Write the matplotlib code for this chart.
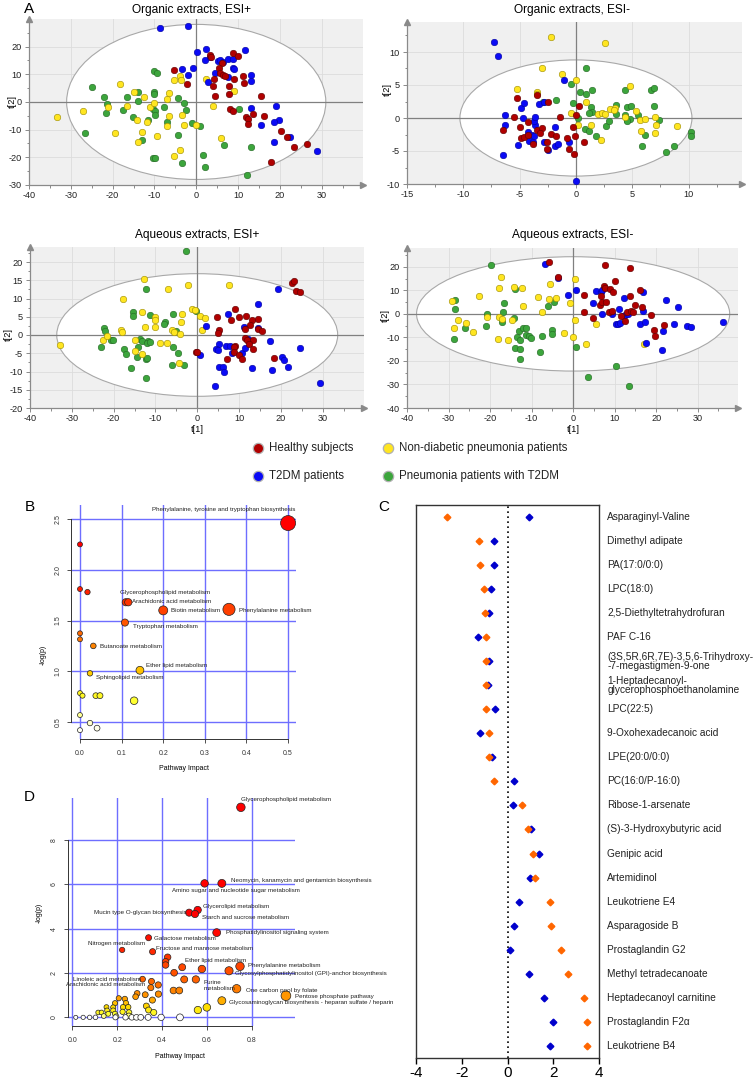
import numpy as np
import matplotlib
matplotlib.use("Agg")
import matplotlib.pyplot as plt
from matplotlib.patches import Ellipse
from matplotlib.colors import LinearSegmentedColormap, Normalize, PowerNorm
from matplotlib.ticker import MultipleLocator, AutoMinorLocator

plt.rcParams['font.family'] = ['Liberation Sans', 'DejaVu Sans']
plt.rcParams['axes.unicode_minus'] = False

W, H = 755, 1081

# ---------------- panel A: PCA score plots (t[1], t[2]) ----------------
group_labels = ["Healthy subjects", "T2DM patients",
                "Non-diabetic pneumonia patients", "Pneumonia patients with T2DM"]

org_pos_healthy = [(-5.2, 11.4), (-2.2, 6.6), (3.4, 17.0), (3.6, 16.4), (8.7, 17.6), (10.0, 16.5), (6.2, 14.1),
                   (5.5, 12.3), (5.8, 10.4), (6.4, 9.7), (6.9, 9.4), (9.0, 8.2), (4.3, 8.4), (11.1, 9.4), (11.4, 6.9),
                   (4.1, 5.7), (7.9, 5.7), (4.4, 2.3), (7.8, 2.8), (15.5, 2.0), (8.1, -2.5), (8.8, -3.2), (11.9, -5.5),
                   (12.3, -6.3), (12.4, -8.0), (13.5, -4.5), (16.3, -5.0), (20.3, -10.6), (21.7, -12.5),
                   (23.3, -16.1), (26.4, -15.3), (18.0, -21.6)]
org_pos_t2dm = [(-8.7, 26.6), (-2.0, 27.3), (0.2, 18.2), (2.4, 19.1), (11.7, 18.8), (2.0, 15.2), (3.4, 16.2),
                (5.3, 14.7), (5.8, 15.1), (6.5, 14.3), (7.5, 15.5), (8.8, 15.6), (8.8, 12.3), (9.1, 12.0),
                (-0.7, 12.1), (-3.4, 11.8), (-2.0, 9.8), (4.4, 10.4), (7.6, 9.1), (2.8, 7.2), (13.2, 9.8),
                (13.2, 7.4), (13.2, -2.2), (19.1, -1.6), (19.7, -6.4), (18.7, -7.2), (15.4, -8.5), (18.5, -14.4),
                (22.5, -12.8), (28.9, -17.9)]
org_pos_nondiab = [(-33.2, -5.6), (-27.0, -3.3), (-18.2, 6.6), (-21.1, -1.8), (-16.5, -1.6), (-15.0, 3.6),
                   (-14.2, -6.7), (-14.0, -14.6), (-19.4, -11.4), (-12.5, 1.9), (-12.9, -10.8), (-11.8, -7.3),
                   (-11.0, -2.0), (-10.0, -0.5), (-9.4, -12.3), (-7.0, 1.0), (-6.6, 3.4), (-6.9, -8.7), (-6.4, -5.1),
                   (-5.2, 7.8), (-3.9, 9.2), (-3.6, 8.0), (-3.5, -4.6), (-3.0, -8.5), (-3.9, -17.2), (-5.4, -19.5),
                   (2.4, 8.2), (9.1, 3.9), (4.0, -1.3), (0.0, -8.4), (6.0, -13.2)]
org_pos_pneu = [(-25.0, 5.3), (-22.0, 1.6), (-21.4, -0.7), (-21.6, -4.0), (-26.5, -11.1), (-16.5, 1.9),
                (-17.6, -3.0), (-14.0, 3.7), (-14.0, 0.5), (-15.2, -5.3), (-11.6, -6.4), (-12.9, -13.6),
                (-10.2, 3.7), (-10.1, 3.0), (-10.4, -2.4), (-9.8, -3.1), (-9.8, -4.7), (-7.6, -1.8), (-7.0, -7.3),
                (-10.0, 11.0), (-9.4, 10.6), (-4.3, 1.3), (-3.0, -0.5), (-2.4, -2.9), (-4.3, -12.0),
                (-10.3, -20.1), (-9.8, -20.1), (-3.5, -21.9), (-1.0, -7.6), (1.0, -8.8), (1.7, -19.0),
                (2.0, -23.6), (6.7, -15.5), (10.3, -2.7), (13.2, -16.1), (12.1, -26.5)]

org_neg_healthy = [(-5.2, 3.1), (-5.5, 0.1), (-6.5, -1.8), (-5.0, -1.4), (-4.9, -3.0), (-4.6, -2.9), (-4.3, -2.6),
                   (-4.3, -0.6), (-3.8, -4.0), (-3.5, 3.5), (-3.5, -1.8), (-3.0, -1.5), (-3.2, -2.3), (-2.5, 2.4),
                   (-2.6, -3.6), (-2.6, -4.7), (-2.2, -2.4), (-1.8, -2.7), (-1.4, 0.2), (-0.8, -3.1), (-0.6, -4.7),
                   (-0.2, -5.5), (-0.3, -1.4), (-0.1, -2.8), (0.0, 0.4), (0.3, 1.8), (0.7, -3.7)]
org_neg_t2dm = [(-7.3, 11.5), (-6.9, 9.4), (-1.1, 5.7), (-6.3, 0.5), (-6.3, -1.0), (-6.5, -5.6), (-5.1, -4.1),
                (-4.9, 1.5), (-4.6, 2.3), (-4.7, 0.0), (-4.3, -2.1), (-4.2, -3.5), (-3.9, -2.5), (-3.8, -3.7),
                (-3.6, -1.0), (-3.7, -0.5), (-3.6, 0.2), (-3.7, -2.8), (-3.3, 2.1), (-2.8, 2.5), (-2.8, -3.6),
                (-2.5, -4.9), (-1.9, -1.3), (-1.9, -4.3), (-1.6, -4.0), (-0.6, -3.6), (0.0, -9.6)]
org_neg_nondiab = [(-2.2, 12.2), (2.6, 11.4), (-3.0, 7.5), (-1.2, 6.6), (0.0, 5.8), (-5.2, 4.4), (-3.5, 3.9),
                   (-3.5, 3.6), (0.9, 2.5), (-0.4, 0.7), (0.2, -1.1), (1.3, -1.0), (2.2, -3.3), (2.0, 0.6),
                   (2.3, 0.7), (2.6, 0.6), (3.0, 1.3), (3.5, 1.5), (3.4, 1.2), (4.4, 0.2), (4.8, 4.8), (5.3, 1.1),
                   (5.7, -0.3), (6.1, -0.1), (5.8, -1.9), (7.0, 0.1), (7.1, -1.1), (7.0, -2.2), (9.0, -1.2)]
org_neg_pneu = [(0.9, 7.6), (-0.4, 5.1), (0.4, 4.0), (0.9, 3.7), (1.4, 4.2), (-1.8, 2.8), (-2.9, 2.5), (-0.3, 2.2),
                (1.3, 1.6), (1.4, 0.9), (1.2, 0.8), (0.2, 0.0), (0.8, -1.7), (1.2, -2.0), (1.8, -2.7), (2.7, -1.2),
                (2.9, -0.4), (3.6, 2.0), (3.6, 0.6), (4.4, 4.2), (4.5, 1.6), (4.4, 0.4), (4.5, -0.3), (4.9, 1.8),
                (4.8, -0.1), (4.5, -0.5), (5.5, 0.4), (6.1, -2.5), (5.9, -4.3), (6.7, 4.2), (6.9, 4.5), (6.9, 1.8),
                (7.4, -0.3), (8.0, -5.1), (8.7, -4.2), (10.2, -2.1), (10.2, -2.8)]

aq_pos_healthy = [(-0.4, -4.6), (0.0, -4.6), (4.8, 4.8), (5.1, 1.5), (4.9, 0.5), (8.0, 4.1), (9.0, 7.0), (9.9, 4.9),
                  (11.7, 5.1), (13.2, 4.2), (14.6, 4.4), (12.7, 2.7), (11.4, 1.6), (14.6, 1.6), (15.4, 1.0),
                  (11.5, -0.9), (12.0, -1.4), (13.3, -1.3), (12.5, -2.5), (13.3, -3.9), (9.1, -3.1), (8.7, -3.4),
                  (8.7, -4.6), (9.9, -5.5), (10.6, -6.6), (7.1, -6.6), (18.4, -6.4), (22.6, 14.3), (23.2, 14.9),
                  (23.7, 12.1), (24.6, 11.8)]
aq_pos_t2dm = [(19.4, 12.5), (14.6, 8.4), (2.2, 2.5), (7.4, 5.7), (11.3, 2.3), (14.6, 1.9), (17.3, -1.7),
               (5.1, -2.6), (4.4, -3.8), (4.9, -4.1), (7.0, -3.0), (7.8, -3.1), (8.4, -4.9), (10.8, -4.9),
               (12.2, -1.1), (11.4, -3.5), (0.7, -5.4), (5.1, -8.9), (6.2, -8.8), (6.3, -10.0), (13.0, -9.1),
               (17.8, -9.5), (20.2, -6.1), (20.8, -6.9), (21.8, -8.7), (24.7, -3.5), (29.3, -13.1), (4.2, -14.1)]
aq_pos_nondiab = [(-32.9, -2.8), (-22.5, -1.3), (-21.5, -0.4), (-18.3, 1.4), (-18.1, 0.9), (-17.7, 9.8),
                  (-15.0, -1.5), (-15.0, -4.4), (-13.3, -5.3), (-12.7, 15.4), (-13.3, 6.2), (-12.5, 2.2),
                  (-10.1, 4.9), (-10.1, 4.1), (-10.1, 2.2), (-8.9, -2.1), (-7.3, -2.3), (-6.9, 12.6), (-6.0, 1.3),
                  (-5.5, 0.8), (-3.7, 5.7), (-3.8, 3.5), (-4.0, 0.3), (-4.4, -7.8), (-2.2, 13.8), (-1.2, 7.1),
                  (-0.6, 6.8), (0.6, 5.3), (1.8, 4.7), (1.2, 1.5), (7.5, 13.7)]
aq_pos_pneu = [(-2.8, 22.9), (-12.3, 12.5), (-15.4, 6.3), (-15.3, 5.3), (-11.2, 5.5), (-7.7, 3.6), (-7.9, 3.1),
               (-5.9, 5.7), (-0.3, 6.6), (-5.1, 1.0), (-22.4, 1.8), (-22.0, 1.1), (-20.6, -1.3), (-20.2, -1.4),
               (-23.1, -3.2), (-17.6, -3.7), (-17.0, -5.3), (-13.8, -1.1), (-13.3, -1.7), (-11.8, -1.7),
               (-12.0, -2.2), (-11.4, -1.9), (-14.1, -3.4), (-14.3, -5.9), (-12.3, -6.7), (-12.1, -6.4),
               (-15.9, -9.1), (-12.3, -11.7), (-5.8, -3.2), (-4.6, -5.0), (-6.0, -8.2), (-3.1, -8.2)]

aq_neg_healthy = [(-5.9, 22.1), (-3.6, 15.8), (2.6, 7.9), (2.5, 0.7), (4.7, -1.9), (6.4, 3.6), (6.8, 7.6),
                  (7.0, 5.1), (7.4, 11.9), (7.6, 10.8), (7.7, 20.8), (7.9, 5.1), (8.6, 1.0), (8.8, 10.5), (9.4, 1.3),
                  (9.7, 9.3), (10.1, 14.0), (11.6, -1.0), (12.4, -3.1), (13.0, 1.0), (13.6, 19.5), (13.8, 7.6),
                  (14.0, 1.3), (14.3, 0.7), (14.8, 3.7), (16.1, 10.3), (16.6, 3.1), (18.8, -0.4), (19.4, -6.9),
                  (19.6, -9.6), (22.0, -4.8)]
aq_neg_t2dm = [(-6.8, 21.3), (-3.6, 15.2), (-1.3, 7.9), (0.6, 10.2), (4.7, 4.8), (5.6, 9.6), (6.7, 9.2),
               (7.0, 10.1), (7.0, -0.2), (9.3, -0.2), (10.3, -4.4), (10.9, -4.3), (11.2, -3.9), (11.0, 2.1),
               (11.9, -1.1), (12.2, 6.9), (12.6, -0.5), (13.1, 0.0), (16.2, -4.5), (16.9, 9.1), (16.9, 1.1),
               (17.3, -3.3), (17.5, -12.4), (21.5, -15.4), (21.6, -7.2), (22.3, 5.8), (24.3, -4.5), (25.2, 2.8),
               (27.4, -5.0), (28.3, -5.6), (36.1, -3.5)]
aq_neg_nondiab = [(-29.2, 5.4), (-28.7, -6.2), (-27.6, -2.4), (-25.9, -3.8), (-24.0, -7.9), (-22.6, 7.8),
                  (-20.7, -1.4), (-18.1, -10.6), (-17.8, 11.2), (-17.3, 15.6), (-17.8, -1.3), (-17.2, -2.3),
                  (-15.6, -11.0), (-14.8, -2.8), (-14.2, 11.6), (-12.3, 11.2), (-12.0, 3.3), (-8.4, 7.2),
                  (-7.5, 0.6), (-5.9, 6.4), (-5.6, 12.6), (-4.2, 6.8), (-2.3, -8.0), (-0.8, 4.8), (0.4, 14.7),
                  (0.4, -2.4), (0.0, -9.9), (3.1, -12.7), (5.6, -4.5), (17.1, -12.6)]
aq_neg_pneu = [(-19.7, 20.9), (-28.5, 5.8), (-28.4, 2.1), (-28.6, -10.5), (-26.0, -5.8), (-20.7, 0.0),
               (-20.9, -5.1), (-16.6, 4.5), (-16.9, 1.0), (-17.1, -3.5), (-14.3, -1.7), (-13.9, 10.5),
               (-13.0, -7.1), (-12.0, -6.1), (-11.3, -6.1), (-11.3, -8.8), (-10.7, -9.4), (-10.1, -10.2),
               (-13.6, -10.0), (-12.8, -11.2), (-13.9, -14.3), (-12.7, -15.0), (-12.9, -19.1), (-7.6, -9.3),
               (-8.0, -16.4), (-6.0, 3.2), (-4.6, 4.9), (-5.0, -6.9), (-5.2, -8.4), (0.8, -14.1), (3.6, -26.9),
               (10.4, -22.3), (13.4, -30.7)]

# ---------------- panel B: pathway analysis ----------------
b_impact = [0.5, 0.0, 0.0, 0.018, 0.11, 0.116, 0.2, 0.358, 0.108, 0.0, 0.0, 0.032, 0.144, 0.024,
            0.0, 0.006, 0.038, 0.048, 0.13, 0.0, 0.024, 0.041, 0.0]
b_logp = [2.46, 2.25, 1.81, 1.78, 1.68, 1.68, 1.60, 1.61, 1.48, 1.374, 1.315, 1.25, 1.01, 0.98,
          0.785, 0.76, 0.76, 0.76, 0.71, 0.569, 0.49, 0.44, 0.42]
b_names = ["Phenylalanine, tyrosine and tryptophan biosynthesis", "Glycerophospholipid metabolism",
           "Arachidonic acid metabolism", "Biotin metabolism", "Phenylalanine metabolism",
           "Tryptophan metabolism", "Butanoate metabolism", "Ether lipid metabolism", "Sphingolipid metabolism"]
b_name_x = [0.345, 0.096, 0.124, 0.219, 0.383, 0.127, 0.047, 0.158, 0.038]
b_name_y = [2.589, 1.78, 1.689, 1.597, 1.597, 1.443, 1.242, 1.055, 0.937]

# ---------------- panel D: pathway analysis ----------------
d_impact = [0.752, 0.667, 0.59, 0.559, 0.521, 0.547, 0.644, 0.34, 0.222, 0.358, 0.425, 0.416, 0.416, 0.49,
            0.748, 0.578, 0.699, 0.454, 0.499, 0.551, 0.313, 0.353, 0.383, 0.35, 0.733, 0.451, 0.477, 0.384,
            0.325, 0.289, 0.282, 0.953, 0.357, 0.667, 0.60, 0.56, 0.33, 0.34, 0.363, 0.207, 0.234, 0.19, 0.239,
            0.182, 0.226, 0.249, 0.152, 0.155, 0.115, 0.13, 0.14, 0.16, 0.182, 0.19, 0.224, 0.253, 0.252, 0.196,
            0.015, 0.048, 0.077, 0.103, 0.192, 0.237, 0.265, 0.286, 0.305, 0.338, 0.396, 0.48]
d_logp = [9.47, 6.04, 6.04, 4.84, 4.72, 4.66, 3.82, 3.59, 3.04, 2.96, 2.71, 2.51, 2.36, 2.26,
          2.30, 2.18, 2.10, 2.01, 1.71, 1.71, 1.72, 1.62, 1.46, 1.34, 1.29, 1.21, 1.21, 1.05,
          1.02, 1.08, 0.93, 0.975, 0.78, 0.75, 0.45, 0.33, 0.51, 0.33, 0.22, 0.86, 0.83, 0.64, 0.64,
          0.45, 0.46, 0.46, 0.46, 0.31, 0.22, 0.22, 0.06, 0.16, 0.31, 0.16, 0.25, 0.22, 0.07, 0.04,
          0.0, 0.0, 0.0, 0.0, 0.0, 0.0, 0.0, 0.0, 0.0, 0.0, 0.0, 0.0]
d_names = ["Glycerophospholipid metabolism", "Neomycin, kanamycin and gentamicin biosynthesis",
           "Amino sugar and nucleotide sugar metabolism", "Glycerolipid metabolism",
           "Mucin type O-glycan biosynthesis", "Starch and sucrose metabolism",
           "Phosphatidylinositol signaling system", "Galactose metabolism", "Nitrogen metabolism",
           "Fructose and mannose metabolism", "Ether lipid metabolism", "Phenylalanine metabolism",
           "Glycosylphosphatidylinositol (GPI)-anchor biosynthesis", "Linoleic acid metabolism",
           "Arachidonic acid metabolism", "Purine\nmetabolism", "One carbon pool by folate",
           "Pentose phosphate pathway", "Glycosaminoglycan biosynthesis - heparan sulfate / heparin"]
d_name_x = [0.752, 0.706, 0.444, 0.584, 0.51, 0.578, 0.684, 0.363, 0.068, 0.375, 0.502, 0.785, 0.725,
            0.003, -0.027, 0.587, 0.775, 0.994, 0.70]
d_name_y = [9.83, 6.16, 5.70, 5.0, 4.72, 4.51, 3.82, 3.55, 3.32, 3.11, 2.58, 2.33, 1.98,
            1.71, 1.47, 1.44, 1.23, 0.93, 0.66]

# ---------------- panel C: metabolite changes ----------------
c_names = ["Asparaginyl-Valine", "Dimethyl adipate", "PA(17:0/0:0)", "LPC(18:0)", "2,5-Diethyltetrahydrofuran",
           "PAF C-16", "(3S,5R,6R,7E)-3,5,6-Trihydroxy-\n-7-megastigmen-9-one",
           "1-Heptadecanoyl-\nglycerophosphoethanolamine", "LPC(22:5)", "9-Oxohexadecanoic acid",
           "LPE(20:0/0:0)", "PC(16:0/P-16:0)", "Ribose-1-arsenate", "(S)-3-Hydroxybutyric acid",
           "Genipic acid", "Artemidinol", "Leukotriene E4", "Asparagoside B", "Prostaglandin G2",
           "Methyl tetradecanoate", "Heptadecanoyl carnitine", "Prostaglandin F2\u03b1", "Leukotriene B4"]
c_orange = [-2.63, -1.24, -1.21, -1.02, -0.98, -0.95, -0.92, -0.92, -0.92, -0.83, -0.83, -0.60,
            0.64, 0.90, 1.11, 1.19, 1.85, 1.89, 2.33, 2.66, 3.36, 3.49, 3.49]
c_blue = [0.96, -0.60, -0.61, -0.73, -0.82, -1.28, -0.83, -0.84, -0.54, -1.19, -0.66, 0.28,
          0.25, 1.02, 1.37, 0.98, 0.51, 0.29, 0.10, 0.93, 1.60, 1.99, 1.85]

# ---------------- styles ----------------
group_face = ['#b00000', '#0a0af5', '#ffe520', '#3ca53c']
group_edge = ['#5a0000', '#00009a', '#9a8a00', '#236623']
heat = LinearSegmentedColormap.from_list('heat', [(0, '#ffffff'), (0.08, '#ffffb0'), (0.2, '#ffff30'),
                                                  (0.33, '#ffe000'), (0.45, '#ffa500'), (0.62, '#ff6a00'),
                                                  (0.8, '#ff3a00'), (1.0, '#ff0000')])
grid_blue = '#6e6eff'

fig = plt.figure(figsize=(W / 100, H / 100), dpi=100)


def px_axes(x0, y0, x1, y1):
    return fig.add_axes([x0 / W, 1 - y1 / H, (x1 - x0) / W, (y1 - y0) / H])


def ftext(x, y, s, **kw):
    fig.text(x / W, 1 - y / H, s, **kw)


def score_panel(box, groups, xlim, ylim, ell, xstep, ystep):
    ax = px_axes(*box)
    ax.set_xlim(*xlim)
    ax.set_ylim(*ylim)
    ax.set_facecolor('#f0f0f0')
    ax.xaxis.set_major_locator(MultipleLocator(xstep))
    ax.yaxis.set_major_locator(MultipleLocator(ystep))
    ax.xaxis.set_minor_locator(AutoMinorLocator(2))
    ax.yaxis.set_minor_locator(AutoMinorLocator(2))
    ax.set_axisbelow(True)
    ax.grid(True, color='#dcdcdc', lw=0.6)
    ax.add_patch(Ellipse((0, 0), 2 * ell[0], 2 * ell[1], facecolor='white', edgecolor='#a8a8a8',
                         lw=0.8, zorder=1))
    ax.axhline(0, color='#808080', lw=0.9, zorder=1.5)
    ax.axvline(0, color='#808080', lw=0.9, zorder=1.5)
    for k in [3, 2, 1, 0]:
        pts = np.array(groups[k])
        ax.scatter(pts[:, 0], pts[:, 1], s=22, c=group_face[k], edgecolors=group_edge[k],
                   linewidths=0.4, zorder=3)
    for side in ['top', 'right']:
        ax.spines[side].set_visible(False)
    for side in ['left', 'bottom']:
        ax.spines[side].set_color('#8a8a8a')
        ax.spines[side].set_linewidth(0.9)
    ax.tick_params(which='both', colors='#8a8a8a', labelcolor='#222222', labelsize=6.6, width=0.7)
    ax.tick_params(which='major', length=3)
    ax.tick_params(which='minor', length=1.8)
    ax.tick_params(axis='x', pad=1.5)
    ax.tick_params(axis='y', pad=2.5)
    ax.plot(1, 0, '>', ms=4.5, color='#8a8a8a', transform=ax.transAxes, clip_on=False)
    ax.plot(0, 1, '^', ms=4.5, color='#8a8a8a', transform=ax.transAxes, clip_on=False)
    return ax


score_panel((29, 19.4, 362.6, 185), [org_pos_healthy, org_pos_t2dm, org_pos_nondiab, org_pos_pneu],
            (-40, 39.8), (-30, 29.8), (31, 28), 10, 10)
score_panel((407, 22.3, 741.5, 184), [org_neg_healthy, org_neg_t2dm, org_neg_nondiab, org_neg_pneu],
            (-15, 14.7), (-10, 14.5), (10.3, 8.8), 5, 5)
score_panel((30, 247.4, 363.6, 408), [aq_pos_healthy, aq_pos_t2dm, aq_pos_nondiab, aq_pos_pneu],
            (-40, 39.8), (-20, 24), (33.6, 16.8), 10, 5)
score_panel((407, 248, 738, 408), [aq_neg_healthy, aq_neg_t2dm, aq_neg_nondiab, aq_neg_pneu],
            (-40, 39.7), (-40, 28), (37.7, 24.3), 10, 10)

ftext(192, 10, "Organic extracts, ESI+", fontsize=8.6, ha='center', va='center')
ftext(572, 10, "Organic extracts, ESI-", fontsize=8.6, ha='center', va='center')
ftext(197, 235, "Aqueous extracts, ESI+", fontsize=8.6, ha='center', va='center')
ftext(573, 235, "Aqueous extracts, ESI-", fontsize=8.6, ha='center', va='center')
for (x, y) in [(12, 102), (387, 90), (8, 335), (385, 315)]:
    ftext(x, y, "t[2]", fontsize=6.6, rotation=90, ha='center', va='center')
for (x, y) in [(197, 430), (573, 430)]:
    ftext(x, y, "t[1]", fontsize=6.6, ha='center', va='center')

# legend for panel A
leg = fig.add_axes([0, 0, 1, 1])
leg.set_xlim(0, W)
leg.set_ylim(H, 0)
leg.axis('off')
leg_pos = [(258, 448), (258, 476), (388, 448), (388, 476)]
for k, (x, y) in enumerate(leg_pos):
    leg.scatter([x], [y], s=55, c=group_face[k], edgecolors='#b0b0b0', linewidths=0.9)
    leg.text(x + 11, y, group_labels[k], fontsize=8.3, va='center', ha='left', color='#222222')

# ---------------- panel B ----------------
axb = px_axes(71, 505, 296, 739)
axb.set_xlim(-0.0216, 0.519)
axb.set_ylim(0.333, 2.638)
b_ticks_x = [0.0, 0.1, 0.2, 0.3, 0.4, 0.5]
b_ticks_y = [0.5, 1.0, 1.5, 2.0, 2.5]
for v in b_ticks_x:
    axb.axvline(v, color=grid_blue, lw=1.0, zorder=0.5)
for v in b_ticks_y:
    axb.axhline(v, color=grid_blue, lw=1.0, zorder=0.5)
bi = np.array(b_impact)
bl = np.array(b_logp)
b_norm = Normalize(vmin=0.4, vmax=1.95)
axb.scatter(bi, bl, s=((5 + 20 * bi) * 0.72) ** 2, c=heat(b_norm(bl)), edgecolors='#222222',
            linewidths=0.5, zorder=3)
for name, x, y in zip(b_names, b_name_x, b_name_y):
    axb.text(x, y, name, fontsize=4.5, ha='center' if name.startswith('Phenylalanine,') else 'left',
             va='center', color='#222222', zorder=5)

# ---------------- panel D ----------------
axd = px_axes(67.7, 798, 295, 1026)
axd.set_xlim(-0.021, 0.9935)
axd.set_ylim(-0.39, 9.89)
d_ticks_x = [0.0, 0.2, 0.4, 0.6, 0.8]
d_ticks_y = [0, 2, 4, 6, 8]
for v in d_ticks_x:
    axd.axvline(v, color=grid_blue, lw=1.0, zorder=0.5)
for v in d_ticks_y:
    axd.axhline(v, color=grid_blue, lw=1.0, zorder=0.5)
di = np.array(d_impact)
dl = np.array(d_logp)
d_norm = PowerNorm(gamma=0.5, vmin=0, vmax=4)
axd.scatter(di, dl, s=((4 + 6 * di) * 0.72) ** 2, c=heat(np.clip(d_norm(dl), 0, 1)), edgecolors='#222222',
            linewidths=0.5, zorder=3)
for name, x, y in zip(d_names, d_name_x, d_name_y):
    axd.text(x, y, name, fontsize=4.5, ha='right' if name.startswith('Mucin') else 'left',
             va='center', color='#222222', zorder=5)

for ax, tx, ty, fmt in [(axb, b_ticks_x, b_ticks_y, '%.1f'), (axd, d_ticks_x, d_ticks_y, '%d')]:
    for side in ['top', 'right']:
        ax.spines[side].set_visible(False)
    ax.spines['left'].set_bounds(ty[0], ty[-1])
    ax.spines['bottom'].set_bounds(tx[0], tx[-1])
    for side in ['left', 'bottom']:
        ax.spines[side].set_color('#333333')
        ax.spines[side].set_linewidth(0.7)
    ax.set_xticks(tx)
    ax.set_xticklabels(['%.1f' % v for v in tx])
    ax.set_yticks(ty)
    ax.set_yticklabels([fmt % v for v in ty], rotation=90, va='center')
    ax.tick_params(labelsize=5, length=3, width=0.6, colors='#333333')
    ax.tick_params(axis='x', pad=5)
    ax.tick_params(axis='y', pad=4)

ftext(184, 769, "Pathway Impact", fontsize=5, ha='center', va='center')
ftext(43, 655, "-log(p)", fontsize=5, ha='center', va='center', rotation=90)
ftext(180, 1057, "Pathway Impact", fontsize=5, ha='center', va='center')
ftext(39, 913, "-log(p)", fontsize=5, ha='center', va='center', rotation=90)

# ---------------- panel C ----------------
axc = px_axes(416, 505, 599, 1058)
rows = np.arange(len(c_names))
axc.set_xlim(-4, 4)
axc.set_ylim(len(c_names) - 0.5, -0.49)
axc.axvline(0, color='black', lw=1.2, ls=(0, (1, 2)), zorder=1)
axc.plot(c_blue, rows, 'D', ms=3.4, color='#0000cc', zorder=3)
axc.plot(c_orange, rows, 'D', ms=3.4, color='#ff6600', zorder=4)
for i, name in enumerate(c_names):
    axc.text(4.37, i, name, fontsize=7.3, va='center', ha='left', linespacing=0.9, color='#222222')
axc.set_yticks([])
axc.set_xticks([-4, -2, 0, 2, 4])
axc.tick_params(axis='x', labelsize=11, length=4, width=1, pad=1.5)
for side in axc.spines.values():
    side.set_linewidth(1.0)
    side.set_color('#333333')

# panel letters
ftext(29, 9, "A", fontsize=11, ha='center', va='center')
ftext(30, 507, "B", fontsize=11, ha='center', va='center')
ftext(384, 507, "C", fontsize=11, ha='center', va='center')
ftext(29, 797, "D", fontsize=11, ha='center', va='center')

fig.savefig("out.png", dpi=100)
